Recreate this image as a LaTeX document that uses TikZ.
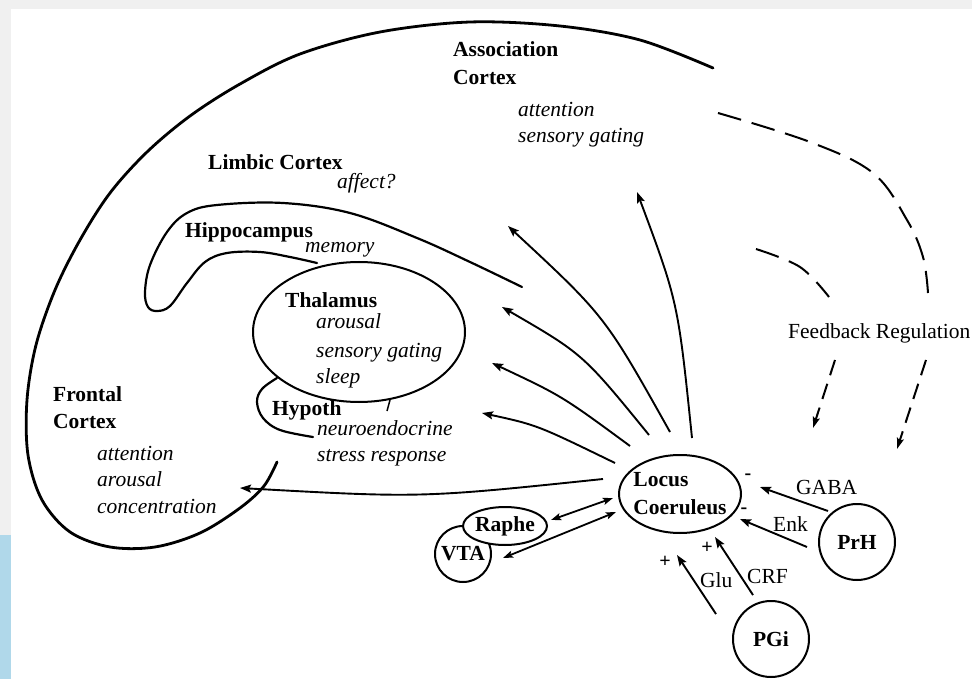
\documentclass[tikz,border=0pt]{standalone}
\usepackage{fontspec}
\setmainfont{Liberation Serif}
\usetikzlibrary{shapes.geometric,arrows.meta}
\definecolor{bggray}{HTML}{F0F0F0}
\definecolor{bgblue}{HTML}{B0D8EA}
\begin{document}
\begin{tikzpicture}[x=1pt,y=-1pt,
  boldlbl/.style={font=\fontsize{21.5}{26}\selectfont\bfseries, anchor=base west, inner sep=0pt},
  funclbl/.style={font=\fontsize{21.5}{26}\selectfont\itshape, anchor=base west, inner sep=0pt},
  plainlbl/.style={font=\fontsize{21.5}{26}\selectfont, anchor=base west, inner sep=0pt},
  signlbl/.style={font=\fontsize{20}{24}\selectfont\bfseries, inner sep=0pt},
  nuctext/.style={font=\fontsize{21.5}{28}\selectfont\bfseries, inner sep=0pt, align=left},
  regionline/.style={line width=2.2pt, line cap=round, line join=round},
  cortexline/.style={line width=2.8pt, line cap=round, line join=round},
  nucshape/.style={draw, line width=2pt, fill=white, inner sep=0pt},
  proj/.style={line width=1.9pt, -{Stealth[length=11pt,width=8pt,inset=2pt]}},
  bidir/.style={line width=1.8pt, {Stealth[length=10pt,width=7pt,inset=2pt]}-{Stealth[length=10pt,width=7pt,inset=2pt]}},
  fbline/.style={line width=2pt, dash pattern=on 24pt off 11pt},
  fbarrow/.style={line width=2pt, dash pattern=on 16pt off 9pt, -{Stealth[length=11pt,width=7pt,inset=2pt]}},
]
\useasboundingbox (0,0) rectangle (972,679);
\fill[bggray] (0,0) rectangle (972,679);
\fill[white] (11,9) rectangle (972,679);
\fill[bgblue] (0,535) rectangle (11,679);

% outer cortex outline
\draw[cortexline] plot[smooth, tension=0.55] coordinates {(713,68) (640,40) (560,26) (470,22) (380,32) (300,54) (240,84) (190,116) (147,152) (110,193) (80,240) (55,290) (36,345) (27,400) (28,455) (42,500) (70,532) (110,547) (155,547) (200,533) (240,508) (264,486) (277,462)};

% hippocampus
\draw[regionline] plot[smooth, tension=0.6] coordinates {(522,287) (470,262) (417,238) (350,213) (283,203) (217,205) (187,213) (167,232) (150,265) (145,292) (148,307) (157,311) (170,306) (187,283) (205,262) (227,253) (260,252) (290,257) (317,263)};

% thalamus
\node[draw, ellipse, line width=2pt, minimum width=212pt, minimum height=140pt, inner sep=0pt] (thal) at (359,332) {};

% hypothalamus
\draw[regionline] plot[smooth, tension=0.6] coordinates {(277,378) (262,389) (257,402) (263,418) (280,430) (313,437)};
\coordinate (tickA) at (390,400);
\coordinate (tickB) at (387,411);
\draw[line width=1.5pt] (tickA) -- (tickB);

% nuclei
\node[nucshape, circle, minimum size=56pt] (vta) at (463,554) {};
\node[nucshape, ellipse, minimum width=84pt, minimum height=38pt] (raphe) at (505,526) {};
\node[nucshape, ellipse, minimum width=122pt, minimum height=78pt] (lc) at (680,494) {};
\node[nucshape, circle, minimum size=76pt] (prh) at (857,542) {};
\node[nucshape, circle, minimum size=76pt] (pgi) at (771,639) {};

\node[nuctext] (vtat) at (vta) {VTA};
\node[nuctext] (rapht) at (raphe) {Raphe};
\node[nuctext] (lct) at (lc) {Locus\\Coeruleus};
\node[nuctext] (prht) at (prh) {PrH};
\node[nuctext] (pgit) at (pgi) {PGi};

% labels
\node[boldlbl] (assocA) at (453,57) {Association};
\node[boldlbl] (assocB) at (453,85) {Cortex};
\node[funclbl] (assocF1) at (518,117) {attention};
\node[funclbl] (assocF2) at (518,143) {sensory gating};
\node[boldlbl] (limb) at (208,170) {Limbic Cortex};
\node[funclbl] (limbF) at (337,189) {affect?};
\node[boldlbl] (hipp) at (185,238) {Hippocampus};
\node[funclbl] (hippF) at (305,252) {memory};
\node[boldlbl] (thalL) at (285,307) {Thalamus};
\node[funclbl] (thalF1) at (316,328) {arousal};
\node[funclbl] (thalF2) at (316,357) {sensory gating};
\node[funclbl] (thalF3) at (316,383) {sleep};
\node[boldlbl] (hypL) at (272,415) {Hypoth};
\node[funclbl] (hypF1) at (317,435) {neuroendocrine};
\node[funclbl] (hypF2) at (317,461) {stress response};
\node[boldlbl] (frA) at (53,401) {Frontal};
\node[boldlbl] (frB) at (53,428) {Cortex};
\node[funclbl] (frF1) at (97,460) {attention};
\node[funclbl] (frF2) at (97,486) {arousal};
\node[funclbl] (frF3) at (97,513) {concentration};
\node[plainlbl] (fbL) at (788,338) {Feedback Regulation};

% projections from LC
\coordinate (s1) at (692,438); \coordinate (t1) at (637,192);
\coordinate (s2) at (670,432); \coordinate (t2) at (508,226);
\coordinate (s3) at (649,435); \coordinate (t3) at (502,307);
\coordinate (s4) at (630,446); \coordinate (t4) at (492,363);
\coordinate (s5) at (615,463); \coordinate (t5) at (482,413);
\coordinate (s6) at (603,479); \coordinate (t6) at (240,488);
\draw[proj] (s1) .. controls (678,302) .. (t1);
\draw[proj] (s2) .. controls (605,316) .. (t2);
\draw[proj] (s3) .. controls (583,354) .. (t3);
\draw[proj] (s4) .. controls (562,396) .. (t4);
\draw[proj] (s5) .. controls (537,425) .. (t5);
\draw[proj] (s6) .. controls (421,498) .. (t6);

% reciprocal connections
\coordinate (r1) at (551,520); \coordinate (r2) at (613,498);
\coordinate (v1) at (503,558); \coordinate (v2) at (616,512);
\draw[bidir] (r1) -- (r2);
\draw[bidir] (v1) -- (v2);

% afferents
\coordinate (g1) at (828,511); \coordinate (g2) at (760,487);
\coordinate (e1) at (807,547); \coordinate (e2) at (740,519);
\coordinate (c1) at (753,595); \coordinate (c2) at (715,537);
\coordinate (u1) at (716,614); \coordinate (u2) at (677,555);
\draw[proj] (g1) -- (g2);
\draw[proj] (e1) -- (e2);
\draw[proj] (c1) -- (c2);
\draw[proj] (u1) -- (u2);
\node[plainlbl] (gabaL) at (796,494) {GABA};
\node[plainlbl] (enkL) at (773,531) {Enk};
\node[plainlbl] (crfL) at (747,583) {CRF};
\node[plainlbl] (gluL) at (700,587) {Glu};
\node[signlbl] (m1) at (748,477) {-};
\node[signlbl] (m2) at (744,511) {-};
\node[signlbl] (p1) at (707,548) {+};
\node[signlbl] (p2) at (665,562) {+};

% feedback regulation
\draw[fbline] plot[smooth, tension=0.6] coordinates {(718,113) (810,142) (873,173) (907,220) (923,257) (928,293)};
\draw[fbline] plot[smooth, tension=0.6] coordinates {(756,249) (800,267) (829,297)};
\coordinate (d1s) at (835,360); \coordinate (d1t) at (813,428);
\coordinate (d2s) at (926,360); \coordinate (d2t) at (897,449);
\draw[fbarrow] (d1s) -- (d1t);
\draw[fbarrow] (d2s) -- (d2t);
\end{tikzpicture}
\end{document}
